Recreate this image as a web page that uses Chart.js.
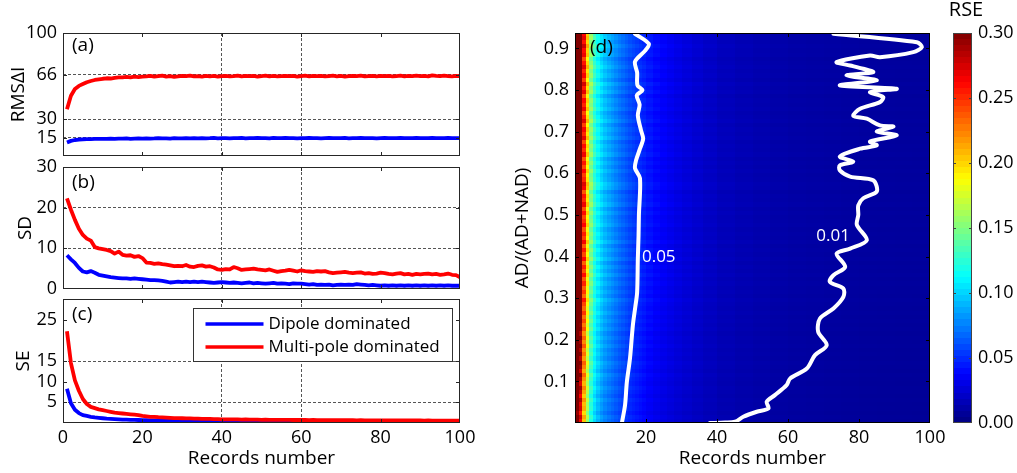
<!DOCTYPE html>
<html>
<head>
<meta charset="utf-8">
<script src="https://cdn.jsdelivr.net/npm/chart.js@4.4.1/dist/chart.umd.min.js"></script>
<style>
  html, body { margin: 0; padding: 0; background: #fff; }
  #wrap { position: relative; width: 1017px; height: 473px; overflow: hidden; }
  canvas { position: absolute; top: 0; }
</style>
</head>
<body>
<div id="wrap">
  <canvas id="cA" width="500" height="473" style="left:0"></canvas>
  <canvas id="cB" width="500" height="473" style="left:0"></canvas>
  <canvas id="cC" width="500" height="473" style="left:0"></canvas>
  <canvas id="cD" width="517" height="473" style="left:500px"></canvas>
  <canvas id="cE" width="87" height="473" style="left:930px"></canvas>
</div>
<script>
'use strict';

// ---- data ----
const RECORDS = Array.from({ length: 100 }, (_, i) => i + 1);

// (a) RMSΔI
const RMS_DIPOLE = [
  11.0, 12.3, 13.0, 13.4, 13.6, 13.7, 13.8, 13.9, 14.0, 13.9,
  14.0, 14.1, 13.9, 14.2, 14.1, 14.3, 14.0, 14.2, 14.3, 14.1,
  14.4, 14.2, 14.3, 14.5, 14.3, 14.4, 14.2, 14.5, 14.4, 14.3,
  14.6, 14.4, 14.5, 14.3, 14.6, 14.4, 14.5, 14.7, 14.4, 14.6,
  14.5, 14.4, 14.6, 14.5, 14.7, 14.4, 14.6, 14.5, 14.8, 14.5,
  14.6, 14.4, 14.7, 14.5, 14.6, 14.8, 14.5, 14.6, 14.4, 14.6,
  14.5, 14.7, 14.5, 14.6, 14.4, 14.6, 14.7, 14.5, 14.6, 14.5,
  14.7, 14.4, 14.6, 14.5, 14.7, 14.6, 14.5, 14.6, 14.4, 14.6,
  14.7, 14.5, 14.6, 14.5, 14.7, 14.6, 14.5, 14.6, 14.7, 14.5,
  14.6, 14.5, 14.7, 14.6, 14.5, 14.6, 14.7, 14.5, 14.6, 14.6,
];
const RMS_MULTI = [
  38.0, 49.0, 54.5, 57.0, 58.5, 60.0, 61.0, 61.8, 62.3, 62.8,
  63.2, 63.0, 63.6, 63.9, 64.0, 64.3, 63.9, 64.5, 64.2, 64.6,
  64.7, 65.2, 64.5, 64.9, 65.3, 64.6, 65.0, 64.4, 64.8, 65.1,
  64.9, 65.4, 64.7, 65.0, 64.6, 65.2, 64.8, 65.1, 64.5, 64.9,
  65.2, 64.8, 65.0, 65.3, 64.7, 65.1, 64.9, 65.2, 64.6, 65.0,
  65.3, 64.8, 65.1, 64.7, 65.0, 65.2, 64.9, 65.1, 64.6, 65.0,
  65.3, 64.8, 65.1, 64.9, 65.2, 64.7, 65.0, 65.3, 64.8, 65.1,
  64.6, 65.0, 65.2, 64.9, 65.3, 64.7, 65.0, 65.1, 64.8, 65.2,
  64.9, 65.1, 64.7, 65.0, 65.3, 64.8, 65.1, 64.9, 65.4, 65.0,
  65.2, 64.8, 65.5, 65.1, 64.9, 65.3, 65.0, 64.8, 65.2, 64.9,
];

// (b) SD
const SD_DIPOLE = [
  8.3, 7.3, 6.4, 5.2, 4.3, 4.1, 4.4, 4.0, 3.5, 3.3,
  3.1, 2.9, 2.8, 2.7, 2.6, 2.6, 2.5, 2.6, 2.5, 2.4,
  2.3, 2.2, 2.2, 2.1, 2.0, 1.8, 1.6, 1.7, 1.8, 1.7,
  1.8, 1.7, 1.8, 1.7, 1.8, 1.7, 1.6, 1.5, 1.6, 1.7,
  1.6, 1.5, 1.6, 1.5, 1.4, 1.5, 1.6, 1.4, 1.5, 1.4,
  1.3, 1.4, 1.5, 1.3, 1.4, 1.3, 1.2, 1.4, 1.3, 1.3,
  1.2, 1.1, 1.2, 1.0, 1.1, 1.0, 1.1, 0.9, 1.0, 1.1,
  1.0, 1.1, 1.0, 1.2, 1.1, 1.0, 0.9, 1.0, 0.9, 0.8,
  0.9, 0.8, 0.9, 0.8, 0.9, 0.8, 0.9, 0.8, 0.9, 0.8,
  0.9, 0.8, 0.9, 0.8, 0.9, 0.8, 0.9, 0.8, 0.8, 0.8,
];
const SD_MULTI = [
  22.3, 19.5, 17.0, 14.8, 13.3, 12.4, 11.9, 10.3, 10.0, 9.8,
  9.6, 9.3, 8.7, 9.2, 8.4, 8.2, 8.3, 7.9, 8.1, 7.6,
  6.5, 6.4, 6.2, 6.3, 6.1, 6.0, 5.8, 5.6, 5.7, 5.6,
  5.9, 5.5, 5.4, 5.7, 5.8, 5.5, 5.6, 5.3, 4.8, 4.7,
  4.9, 4.8, 5.4, 5.1, 4.7, 4.8, 4.9, 5.0, 4.8, 4.7,
  4.6, 4.8, 4.5, 4.2, 4.4, 4.5, 4.7, 4.5, 4.3, 4.6,
  4.4, 4.3, 4.2, 4.4, 4.3, 4.4, 4.1, 3.9, 4.0, 4.1,
  4.2, 4.0, 3.9, 4.0, 4.1, 3.8, 3.9, 3.7, 3.8, 4.0,
  3.9, 3.7, 3.6, 3.8, 3.9, 3.6, 3.7, 3.5, 3.7, 3.6,
  3.7, 3.8, 3.6, 3.7, 3.5, 3.6, 3.8, 3.5, 3.4, 2.9,
];

// (c) SE
const SE_DIPOLE = [
  8.3, 4.8, 3.2, 2.4, 1.9, 1.7, 1.5, 1.35, 1.25, 1.15,
  1.05, 0.98, 0.92, 0.88, 0.84, 0.8, 0.77, 0.74, 0.72, 0.7,
  0.66, 0.63, 0.61, 0.6, 0.58, 0.55, 0.52, 0.52, 0.5, 0.48,
  0.48, 0.46, 0.45, 0.44, 0.44, 0.43, 0.42, 0.41, 0.4, 0.4,
  0.39, 0.38, 0.38, 0.37, 0.36, 0.36, 0.35, 0.35, 0.34, 0.34,
  0.33, 0.33, 0.32, 0.32, 0.31, 0.31, 0.3, 0.3, 0.3, 0.29,
  0.29, 0.28, 0.28, 0.28, 0.27, 0.27, 0.27, 0.26, 0.26, 0.26,
  0.25, 0.25, 0.25, 0.24, 0.24, 0.24, 0.24, 0.23, 0.23, 0.23,
  0.23, 0.22, 0.22, 0.22, 0.22, 0.21, 0.21, 0.21, 0.21, 0.21,
  0.2, 0.2, 0.2, 0.2, 0.2, 0.2, 0.19, 0.19, 0.19, 0.19,
];
const SE_MULTI = [
  22.2, 14.5, 10.3, 7.8, 5.8, 4.6, 3.9, 3.6, 3.3, 3.1,
  2.9, 2.7, 2.5, 2.4, 2.3, 2.2, 2.1, 2.0, 1.9, 1.7,
  1.6, 1.5, 1.5, 1.4, 1.35, 1.3, 1.25, 1.2, 1.2, 1.15,
  1.1, 1.1, 1.05, 1.05, 1.0, 1.0, 1.0, 0.95, 0.95, 0.9,
  0.9, 0.88, 0.9, 0.86, 0.84, 0.86, 0.82, 0.82, 0.8, 0.78,
  0.8, 0.78, 0.76, 0.78, 0.75, 0.74, 0.76, 0.73, 0.72, 0.74,
  0.72, 0.7, 0.72, 0.7, 0.69, 0.7, 0.68, 0.69, 0.67, 0.68,
  0.66, 0.67, 0.66, 0.65, 0.66, 0.64, 0.65, 0.64, 0.63, 0.64,
  0.63, 0.62, 0.63, 0.62, 0.61, 0.62, 0.6, 0.61, 0.6, 0.6,
  0.59, 0.6, 0.58, 0.59, 0.58, 0.57, 0.58, 0.57, 0.56, 0.56,
];

// (d) RSE map: column = records number, row = AD/(AD+NAD) band
const HEAT_COLS = [
  1, 2, 3, 4, 5, 6, 7, 8, 9, 10, 11, 12, 13, 14, 15, 16, 17, 18, 19, 20,
  22, 24, 26, 28, 30, 33, 36, 40, 45, 50, 55, 60, 65, 70, 75, 80, 85, 90, 95, 100,
];
const COL_RSE = [
  0.370, 0.325, 0.250, 0.192, 0.148, 0.124, 0.110, 0.099, 0.091, 0.085,
  0.080, 0.075, 0.070, 0.066, 0.062, 0.058, 0.055, 0.052, 0.049, 0.046,
  0.042, 0.038, 0.035, 0.032, 0.029, 0.026, 0.023, 0.020, 0.017, 0.015,
  0.0135, 0.012, 0.011, 0.0105, 0.010, 0.0095, 0.009, 0.0088, 0.0086, 0.0085,
];
const ROW_STEP = 0.01;
const ROW_FACTOR = [
  0.82, 0.86, 0.79, 0.85, 0.83, 0.88, 0.81, 0.86, 0.90, 0.84,
  0.88, 0.93, 0.85, 0.90, 0.94, 0.87, 0.92, 0.88, 0.95, 0.89,
  0.94, 0.88, 0.96, 0.91, 0.97, 0.92, 0.99, 0.93, 0.97, 1.03,
  0.93, 0.99, 0.94, 1.01, 0.95, 1.04, 0.96, 1.02, 0.94, 1.05,
  0.97, 1.03, 0.95, 1.06, 0.98, 1.02, 0.96, 1.05, 1.00, 0.97,
  1.04, 0.96, 1.07, 1.00, 1.03, 0.95, 1.06, 1.09, 1.01, 0.98,
  1.05, 0.97, 1.03, 0.96, 1.07, 1.00, 1.04, 0.97, 1.08, 1.01,
  1.06, 0.98, 1.09, 1.02, 0.97, 1.07, 1.01, 1.05, 0.96, 1.08,
  1.02, 1.10, 0.98, 1.06, 1.01, 1.09, 1.03, 0.97, 1.07, 1.04,
  1.11, 1.03, 1.08, 1.05,
];

// RSE = 0.05 contour (bottom -> top)
const C05_X = [13.2, 14.1, 14.6, 15.5, 16.3, 17.0, 17.5, 17.7, 17.9, 18.0, 18.3, 16.9, 17.2, 18.3, 19.2,
  18.6, 17.7, 18.2, 17.4, 19.0, 17.6, 17.5, 16.9, 19.7, 20.8, 16.9];
const C05_Y = [0.000, 0.043, 0.098, 0.156, 0.235, 0.280, 0.314, 0.396, 0.450, 0.499, 0.588, 0.612, 0.631, 0.659, 0.683,
  0.703, 0.739, 0.765, 0.787, 0.800, 0.811, 0.842, 0.868, 0.894, 0.911, 0.935];

// RSE = 0.01 contour (top -> bottom)
const C01_X = [72.8, 96.3, 97.7, 95.3, 85.9, 83.1, 73.7, 77.5, 81.2, 84.0, 76.5, 85.0, 74.6, 90.6, 83.1,
  86.8, 85.9, 80.3, 78.4, 82.2, 85.9, 89.7, 85.0, 90.6, 83.1, 85.0, 80.3, 74.6, 78.4, 74.6,
  74.6, 77.5, 84.0, 85.0, 81.2, 79.8, 79.8, 79.4, 82.2, 77.5, 73.7, 76.1, 72.8, 71.8, 75.6,
  75.6, 72.8, 69.0, 68.5, 70.9, 67.6, 65.3, 60.6, 59.6, 56.3, 54.0, 54.5, 51.2, 47.4, 45.1,
  42.3, 38.0];
const C01_Y = [0.935, 0.915, 0.903, 0.891, 0.879, 0.883, 0.867, 0.859, 0.851, 0.843, 0.835, 0.823, 0.811, 0.803, 0.795,
  0.783, 0.771, 0.755, 0.738, 0.731, 0.715, 0.712, 0.700, 0.691, 0.676, 0.667, 0.659, 0.640, 0.628, 0.619,
  0.607, 0.592, 0.583, 0.556, 0.540, 0.523, 0.500, 0.476, 0.439, 0.419, 0.407, 0.375, 0.355, 0.339, 0.323,
  0.303, 0.275, 0.251, 0.219, 0.187, 0.163, 0.131, 0.107, 0.091, 0.067, 0.051, 0.035, 0.027, 0.015, 0.003,
  0.001, 0.000];

const X_TICKS = [0, 20, 40, 60, 80, 100];
const X_GRID = [40, 60];
const D_X_TICKS = [20, 40, 60, 80, 100];
const D_Y_TICKS = [0.1, 0.2, 0.3, 0.4, 0.5, 0.6, 0.7, 0.8, 0.9];
const CBAR_TICKS = [0, 0.05, 0.1, 0.15, 0.2, 0.25, 0.3];
const RSE_MAX = 0.3;

const BLUE = '#0000ff';
const RED = '#ff0000';
const GRID = '#555555';
const FONT = "'Open Sans', 'DejaVu Sans', sans-serif";

Chart.defaults.font.family = FONT;
Chart.defaults.font.size = 18;
Chart.defaults.color = '#000';
Chart.defaults.animation = false;
Chart.defaults.responsive = false;
Chart.defaults.events = [];
Chart.defaults.plugins.legend.display = false;
Chart.defaults.plugins.tooltip.enabled = false;

// MATLAB jet colormap
function jet(t) {
  t = Math.min(1, Math.max(0, t));
  const c = v => Math.round(255 * Math.min(1, Math.max(0, v)));
  return `rgb(${c(1.5 - Math.abs(4 * t - 3))},${c(1.5 - Math.abs(4 * t - 2))},${c(1.5 - Math.abs(4 * t - 1))})`;
}

// box round the plot area + inward tick marks
const framePlugin = {
  id: 'frame',
  afterDatasetsDraw(chart, args, o) {
    const { ctx, chartArea: a, scales: { x, y } } = chart;
    const L = o.tick || 4;
    ctx.save();
    ctx.strokeStyle = o.color || '#000';
    ctx.lineWidth = 1;
    ctx.beginPath();
    if (o.xTicks !== false) {
      x.ticks.forEach(t => {
        if (t.value <= x.min || t.value >= x.max) return;
        const px = Math.round(x.getPixelForValue(t.value)) + 0.5;
        ctx.moveTo(px, a.top); ctx.lineTo(px, a.top + L);
        ctx.moveTo(px, a.bottom); ctx.lineTo(px, a.bottom - L);
      });
    }
    y.ticks.forEach(t => {
      if (t.value <= y.min || t.value >= y.max) return;
      const py = Math.round(y.getPixelForValue(t.value)) + 0.5;
      ctx.moveTo(a.left, py); ctx.lineTo(a.left + L, py);
      ctx.moveTo(a.right, py); ctx.lineTo(a.right - L, py);
    });
    ctx.stroke();
    ctx.strokeRect(Math.round(a.left) + 0.5, Math.round(a.top) + 0.5,
      Math.round(a.right - a.left) - 1, Math.round(a.bottom - a.top) - 1);
    ctx.restore();
  },
};

// (a) (b) ... tags
const panelLabelPlugin = {
  id: 'panelLabel',
  afterDraw(chart, args, o) {
    const { ctx, chartArea: a } = chart;
    ctx.save();
    ctx.font = `${o.size || 19}px ${FONT}`;
    ctx.fillStyle = o.color || '#000';
    ctx.textAlign = o.align || 'left';
    ctx.textBaseline = 'middle';
    ctx.fillText(o.text, a.left + o.dx, a.top + o.dy);
    ctx.restore();
  },
};

// legend box inside panel (c)
const boxLegendPlugin = {
  id: 'boxLegend',
  afterDraw(chart, args, o) {
    const { ctx, chartArea: a } = chart;
    const left = Math.round(a.right - o.right - o.width) + 0.5;
    const top = Math.round(a.top + o.top) + 0.5;
    ctx.save();
    ctx.fillStyle = '#fff';
    ctx.fillRect(left, top, o.width, o.height);
    ctx.strokeStyle = '#333';
    ctx.lineWidth = 1;
    ctx.strokeRect(left, top, o.width, o.height);
    ctx.font = `${o.size}px ${FONT}`;
    ctx.textBaseline = 'middle';
    ctx.textAlign = 'left';
    chart.data.datasets.forEach((ds, i) => {
      const yy = top + o.rowY[i];
      ctx.strokeStyle = ds.borderColor;
      ctx.lineWidth = 3.5;
      ctx.beginPath();
      ctx.moveTo(left + 12, yy); ctx.lineTo(left + 70, yy);
      ctx.stroke();
      ctx.fillStyle = '#000';
      ctx.fillText(ds.label, left + 75, yy);
    });
    ctx.restore();
  },
};

// RSE cells, coloured through the chart scales
const heatmapPlugin = {
  id: 'heatmap',
  beforeDatasetsDraw(chart) {
    const { ctx, chartArea: a, scales: { x, y } } = chart;
    ctx.save();
    ctx.beginPath();
    ctx.rect(a.left, a.top, a.right - a.left, a.bottom - a.top);
    ctx.clip();
    HEAT_COLS.forEach((c, i) => {
      const x0 = Math.round(x.getPixelForValue(i ? HEAT_COLS[i - 1] : 0));
      const x1 = Math.round(x.getPixelForValue(c));
      ROW_FACTOR.forEach((f, r) => {
        const y0 = Math.round(y.getPixelForValue(r * ROW_STEP));
        const y1 = Math.round(y.getPixelForValue((r + 1) * ROW_STEP));
        ctx.fillStyle = jet(COL_RSE[i] * f / RSE_MAX);
        ctx.fillRect(x0, y1, x1 - x0, y0 - y1);
      });
    });
    ctx.restore();
  },
};

const contourLabelPlugin = {
  id: 'contourLabel',
  afterDatasetsDraw(chart, args, o) {
    const { ctx, scales: { x, y } } = chart;
    ctx.save();
    ctx.font = `${o.size}px ${FONT}`;
    ctx.fillStyle = '#fff';
    ctx.textAlign = 'center';
    ctx.textBaseline = 'middle';
    o.items.forEach(it => ctx.fillText(it.text, x.getPixelForValue(it.x), y.getPixelForValue(it.y)));
    ctx.restore();
  },
};

const colorbarPlugin = {
  id: 'colorbar',
  beforeDatasetsDraw(chart, args, o) {
    const { ctx, chartArea: a, scales: { y } } = chart;
    const n = o.levels;
    ctx.save();
    for (let i = 0; i < n; i++) {
      const y0 = Math.round(y.getPixelForValue(i * RSE_MAX / n));
      const y1 = Math.round(y.getPixelForValue((i + 1) * RSE_MAX / n));
      ctx.fillStyle = jet((i + 0.5) / n);
      ctx.fillRect(a.left, y1, a.right - a.left, y0 - y1);
    }
    ctx.restore();
  },
};

const pts = (xs, ys) => xs.map((v, i) => ({ x: v, y: ys[i] }));

function linePanel(id, cfg) {
  const line = (label, arr, color, order) => ({
    label, data: pts(RECORDS, arr), showLine: true, borderColor: color,
    borderWidth: 3.8, pointRadius: 0, tension: 0, order, borderJoinStyle: 'round',
  });
  return new Chart(document.getElementById(id), {
    type: 'scatter',
    plugins: [framePlugin, panelLabelPlugin].concat(cfg.legend ? [boxLegendPlugin] : []),
    data: {
      datasets: [
        line('Dipole dominated', cfg.dipole, BLUE, 1),
        line('Multi-pole dominated', cfg.multi, RED, 0),
      ],
    },
    options: {
      layout: { padding: { top: cfg.top, right: 40, bottom: 0, left: 0 } },
      plugins: {
        frame: { color: '#262626', tick: 4 },
        panelLabel: { text: cfg.tag, dx: 9, dy: cfg.tagDy },
        boxLegend: cfg.legend || {},
      },
      scales: {
        x: {
          min: 0, max: 100,
          afterFit: s => { s.height = 473 - cfg.bottom; },
          afterBuildTicks: s => { s.ticks = X_TICKS.map(v => ({ value: v })); },
          ticks: { display: !!cfg.xTitle, padding: 4, autoSkip: false, maxRotation: 0 },
          grid: { drawTicks: false, color: c => (c.tick && X_GRID.includes(c.tick.value)) ? GRID : 'transparent' },
          border: { display: false, dash: [3, 2] },
          title: { display: !!cfg.xTitle, text: 'Records number', font: { size: 19 }, padding: { top: 0, bottom: 3 } },
        },
        y: {
          min: cfg.yMin, max: cfg.yMax,
          afterFit: s => { s.width = 63; },
          afterBuildTicks: s => { s.ticks = cfg.yTicks.map(v => ({ value: v })); },
          ticks: { padding: 6, autoSkip: false },
          grid: { drawTicks: false, color: c => (c.tick && cfg.yGrid.includes(c.tick.value)) ? GRID : 'transparent' },
          border: { display: false, dash: [3, 2] },
          title: { display: true, text: cfg.yTitle, font: { size: 19 }, padding: { top: cfg.titlePad, bottom: 0 } },
        },
      },
    },
  });
}

linePanel('cA', {
  tag: '(a)', tagDy: 13, top: 33, bottom: 156, yMin: 0, yMax: 100,
  yTicks: [15, 30, 66, 100], yGrid: [15, 30, 66], yTitle: 'RMSΔI', titlePad: 7,
  dipole: RMS_DIPOLE, multi: RMS_MULTI,
});
linePanel('cB', {
  tag: '(b)', tagDy: 16, top: 167, bottom: 289, yMin: 0, yMax: 30,
  yTicks: [0, 10, 20, 30], yGrid: [10, 20], yTitle: 'SD', titlePad: 14,
  dipole: SD_DIPOLE, multi: SD_MULTI,
});
linePanel('cC', {
  tag: '(c)', tagDy: 16, top: 299, bottom: 423, yMin: 0, yMax: 30,
  yTicks: [5, 10, 15, 25], yGrid: [5, 15], yTitle: 'SE', titlePad: 12,
  dipole: SE_DIPOLE, multi: SE_MULTI, xTitle: true,
  legend: { right: 8, top: 9, width: 259, height: 53, size: 17, rowY: [15.5, 38.5] },
});

// (d) heat map with contours
const contour = (label, xs, ys) => ({
  label, data: pts(xs, ys), showLine: true, borderColor: '#fff', borderWidth: 4,
  pointRadius: 0, tension: 0.3, borderJoinStyle: 'round', borderCapStyle: 'round',
});
new Chart(document.getElementById('cD'), {
  type: 'scatter',
  plugins: [heatmapPlugin, framePlugin, panelLabelPlugin, contourLabelPlugin],
  data: {
    datasets: [contour('0.05', C05_X, C05_Y), contour('0.01', C01_X, C01_Y)],
  },
  options: {
    layout: { padding: { top: 33, right: 87, bottom: 0, left: 0 } },
    plugins: {
      frame: { color: '#000', tick: 4 },
      panelLabel: { text: '(d)', dx: 15, dy: 15 },
      contourLabel: { size: 17, items: [{ text: '0.05', x: 23.6, y: 0.398 }, { text: '0.01', x: 72.7, y: 0.448 }] },
    },
    scales: {
      x: {
        min: 0, max: 100,
        afterFit: s => { s.height = 50; },
        afterBuildTicks: s => { s.ticks = D_X_TICKS.map(v => ({ value: v })); },
        ticks: { padding: 4, autoSkip: false, maxRotation: 0 },
        grid: { display: false, drawTicks: false },
        border: { display: false },
        title: { display: true, text: 'Records number', font: { size: 19 }, padding: { top: 0, bottom: 3 } },
      },
      y: {
        min: 0, max: 0.937,
        afterFit: s => { s.width = 75; },
        afterBuildTicks: s => { s.ticks = D_Y_TICKS.map(v => ({ value: v })); },
        ticks: { padding: 6, autoSkip: false, callback: v => v.toFixed(1) },
        grid: { display: false, drawTicks: false },
        border: { display: false },
        title: { display: true, text: 'AD/(AD+NAD)', font: { size: 19 }, padding: { top: 11, bottom: 0 } },
      },
    },
  },
});

// colour bar
new Chart(document.getElementById('cE'), {
  type: 'scatter',
  plugins: [colorbarPlugin, framePlugin, panelLabelPlugin],
  data: { datasets: [] },
  options: {
    layout: { padding: { top: 33, right: 0, bottom: 50, left: 23 } },
    plugins: {
      colorbar: { levels: 64 },
      frame: { color: '#444', tick: 3, xTicks: false },
      panelLabel: { text: 'RSE', dx: 13, dy: -23, align: 'center', size: 20 },
    },
    scales: {
      x: { display: false, min: 0, max: 1 },
      y: {
        position: 'right', min: 0, max: RSE_MAX,
        afterFit: s => { s.width = 45; },
        afterBuildTicks: s => { s.ticks = CBAR_TICKS.map(v => ({ value: v })); },
        ticks: { padding: 6, autoSkip: false, callback: v => v.toFixed(2) },
        grid: { display: false, drawTicks: false },
        border: { display: false },
      },
    },
  },
});
</script>
</body>
</html>
